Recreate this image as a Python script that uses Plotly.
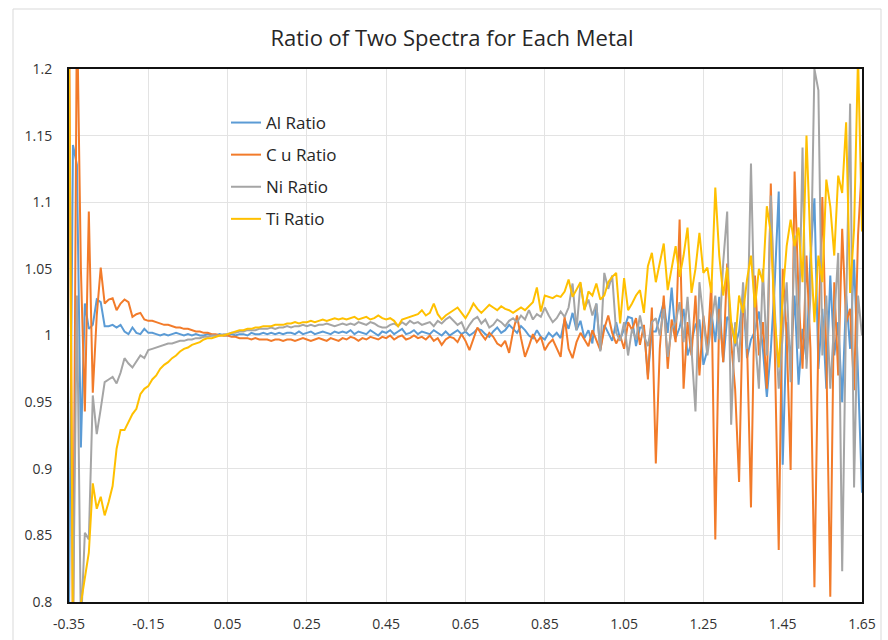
import plotly.graph_objects as go

# sampling grid of the spectra (step 0.01 from -0.35 to 1.65)
x_vals = [round(-0.35 + 0.01 * i, 2) for i in range(201)]

al_ratio = [
    0.79, 1.143, 1.128, 0.916, 1.024, 1.005, 1.008, 1.027, 1.025, 1.007,
    1.007, 1.008, 1.006, 1.008, 1.003, 1.001, 1.006, 1.002, 1.001, 1.005,
    1.002, 1.002, 1.001, 1.000, 1.001, 1.000, 1.001, 1.002, 1.001, 1.000,
    1.001, 1.000, 1.001, 1.000, 1.000, 1.001, 1.000, 1.000, 1.001, 1.000,
    1.000, 1.001, 1.000, 1.001, 1.001, 1.000, 1.002, 1.001, 1.001, 1.002,
    1.001, 1.002, 1.001, 1.002, 1.001, 1.002, 1.002, 1.001, 1.003, 1.001,
    1.002, 1.003, 1.001, 1.002, 1.003, 1.002, 1.001, 1.003, 1.002, 1.003,
    1.002, 1.004, 1.001, 1.003, 1.002, 1.001, 1.004, 1.002, 1.000, 1.003,
    1.002, 1.004, 1.001, 1.003, 1.005, 1.001, 1.002, 1.004, 1.001, 1.003,
    1.002, 1.001, 1.004, 1.002, 1.000, 1.003, 1.000, 1.002, 1.004, 1.001,
    1.003, 1.000, 1.002, 1.005, 1.004, 1.001, 0.999, 1.003, 1.006, 1.002,
    1.004, 1.008, 1.005, 1.002, 1.007, 1.004, 1.000, 0.998, 1.004, 0.999,
    0.997, 1.002, 0.999, 1.002, 0.998, 1.012, 1.005, 1.017, 1.004, 1.011,
    0.998, 1.004, 0.994, 1.024, 0.989, 1.008, 1.002, 0.996, 1.010, 0.997,
    1.005, 1.014, 1.013, 0.992, 1.006, 1.006, 0.970, 1.003, 1.003, 1.015,
    1.025, 1.002, 1.036, 0.998, 1.006, 1.020, 0.985, 0.995, 1.008, 1.012,
    0.978, 0.989, 1.018, 0.995, 1.029, 0.980, 1.014, 1.010, 0.992, 1.003,
    1.032, 0.983, 0.997, 1.003, 1.018, 0.990, 0.954, 0.989, 1.040, 1.108,
    0.903, 1.010, 0.982, 1.030, 0.963, 1.005, 0.982, 1.060, 1.103, 0.975,
    1.020, 0.960, 1.045, 0.985, 1.010, 0.950, 1.030, 0.990, 1.057, 0.970,
    0.882,
]

cu_ratio = [
    1.25, 0.76, 1.25, 1.05, 0.943, 1.093, 0.957, 1.015, 1.051, 1.024,
    1.027, 1.028, 1.019, 1.024, 1.027, 1.025, 1.014, 1.016, 1.017, 1.012,
    1.011, 1.011, 1.010, 1.009, 1.008, 1.008, 1.007, 1.006, 1.006, 1.005,
    1.005, 1.004, 1.003, 1.003, 1.002, 1.002, 1.001, 1.001, 1.000, 1.000,
    1.000, 0.999, 0.999, 0.998, 0.998, 0.998, 0.997, 0.998, 0.997, 0.997,
    0.997, 0.996, 0.997, 0.997, 0.996, 0.997, 0.997, 0.996, 0.997, 0.998,
    0.997, 0.996, 0.997, 0.998, 0.997, 0.996, 0.998, 0.997, 0.996, 0.998,
    0.997, 0.999, 0.998, 0.996, 0.998, 0.997, 0.999, 0.998, 0.997, 0.999,
    0.998, 1.000, 0.997, 0.999, 1.000, 0.997, 0.998, 1.000, 0.998, 0.999,
    0.997, 1.000, 0.996, 0.998, 0.993, 0.997, 0.999, 0.998, 0.995, 1.001,
    0.996, 0.989, 0.998, 1.006, 1.001, 0.997, 1.002, 0.999, 0.994, 0.992,
    0.996, 0.987, 1.003, 1.015, 0.998, 0.984, 0.992, 1.001, 0.995, 0.999,
    0.989, 0.994, 0.997, 0.991, 0.984, 1.014, 0.990, 0.983, 0.995, 1.002,
    0.997, 0.992, 1.004, 0.997, 0.989, 1.005, 1.015, 1.002, 0.994, 1.000,
    0.990, 1.010, 1.004, 1.013, 0.993, 1.008, 0.967, 1.021, 0.904, 0.990,
    1.030, 0.975, 1.012, 0.995, 1.087, 0.960, 1.010, 0.985, 1.030, 0.970,
    1.015, 0.990, 1.040, 0.847, 1.020, 0.980, 1.054, 0.995, 0.960, 0.890,
    1.030, 0.995, 0.871, 1.045, 0.985, 1.010, 0.960, 1.114, 0.990, 0.839,
    1.050, 1.000, 0.899, 1.123, 1.030, 0.975, 1.060, 0.990, 0.811, 1.000,
    1.104, 0.985, 0.804, 1.040, 0.970, 1.080, 1.010, 1.020, 0.959, 1.075,
    1.130,
]

ni_ratio = [
    0.78, 0.78, 1.030, 0.78, 0.852, 0.847, 0.955, 0.926, 0.945, 0.965,
    0.967, 0.969, 0.964, 0.972, 0.983, 0.979, 0.976, 0.981, 0.985, 0.983,
    0.989, 0.990, 0.991, 0.992, 0.993, 0.994, 0.994, 0.995, 0.996, 0.996,
    0.997, 0.997, 0.998, 0.998, 0.999, 0.999, 1.000, 1.000, 1.000, 1.001,
    1.001, 1.002, 1.002, 1.003, 1.003, 1.004, 1.004, 1.004, 1.005, 1.005,
    1.005, 1.006, 1.005, 1.006, 1.006, 1.007, 1.006, 1.007, 1.007, 1.008,
    1.007, 1.008, 1.007, 1.008, 1.008, 1.009, 1.008, 1.007, 1.008, 1.009,
    1.008, 1.009, 1.008, 1.010, 1.009, 1.008, 1.010, 1.009, 1.007, 1.006,
    1.006, 1.008, 1.009, 1.007, 1.010, 1.008, 1.011, 1.009, 1.010, 1.008,
    1.009, 1.010, 1.007, 1.011, 1.009, 1.012, 1.014, 1.011, 1.008, 1.010,
    1.003, 1.008, 1.012, 1.014, 1.009, 1.012, 1.006, 1.008, 1.012, 1.010,
    1.007, 1.011, 1.013, 1.010, 1.015, 1.012, 1.019, 1.012, 1.016, 1.014,
    1.021, 1.015, 1.010, 1.013, 1.018, 1.014, 1.021, 1.039, 1.004, 1.039,
    1.020, 1.027, 1.015, 1.024, 0.988, 1.047, 1.035, 1.045, 1.002, 0.996,
    1.010, 0.985, 1.005, 0.997, 1.015, 1.000, 0.992, 1.010, 1.013, 1.000,
    1.020, 0.984, 1.005, 1.010, 1.025, 0.995, 1.029, 0.990, 0.943, 1.040,
    1.012, 0.985, 1.009, 1.030, 0.997, 1.055, 1.093, 0.933, 1.010, 0.980,
    1.040, 0.990, 1.129, 1.000, 0.960, 1.050, 0.985, 1.105, 1.020, 0.960,
    1.000, 1.040, 0.965, 1.075, 0.990, 1.141, 0.975, 1.030, 1.200, 1.184,
    0.985, 1.030, 0.960, 1.010, 1.062, 0.823, 1.020, 1.174, 0.886, 1.030,
    1.000,
]

ti_ratio = [
    1.22, 0.78, 0.78, 0.800, 0.820, 0.837, 0.889, 0.870, 0.879, 0.865,
    0.875, 0.887, 0.915, 0.929, 0.929, 0.935, 0.941, 0.945, 0.956, 0.960,
    0.962, 0.967, 0.970, 0.975, 0.978, 0.980, 0.983, 0.985, 0.988, 0.990,
    0.991, 0.993, 0.994, 0.995, 0.997, 0.998, 0.998, 0.999, 1.000, 1.000,
    1.001, 1.002, 1.003, 1.004, 1.004, 1.005, 1.005, 1.006, 1.006, 1.007,
    1.007, 1.007, 1.008, 1.008, 1.008, 1.009, 1.009, 1.010, 1.009, 1.010,
    1.010, 1.011, 1.010, 1.011, 1.012, 1.011, 1.012, 1.013, 1.012, 1.013,
    1.012, 1.013, 1.014, 1.012, 1.013, 1.014, 1.012, 1.013, 1.015, 1.013,
    1.012, 1.013, 1.011, 1.007, 1.012, 1.013, 1.014, 1.015, 1.016, 1.019,
    1.015, 1.017, 1.024, 1.016, 1.012, 1.015, 1.017, 1.019, 1.021, 1.017,
    1.013, 1.018, 1.024, 1.020, 1.017, 1.020, 1.023, 1.021, 1.019, 1.022,
    1.020, 1.019, 1.017, 1.019, 1.021, 1.019, 1.022, 1.025, 1.036, 1.018,
    1.030, 1.029, 1.028, 1.030, 1.029, 1.033, 1.042, 1.029, 1.035, 1.040,
    1.019, 1.033, 1.030, 1.039, 1.027, 1.030, 1.040, 1.044, 1.047, 1.009,
    1.043, 1.019, 1.024, 1.030, 1.034, 1.017, 1.052, 1.062, 1.040, 1.055,
    1.069, 1.034, 1.050, 1.067, 1.044, 1.060, 1.081, 1.032, 1.050, 1.077,
    1.047, 1.051, 1.032, 1.111, 1.060, 1.030, 1.051, 1.010, 0.994, 1.030,
    1.017, 1.042, 1.060, 1.021, 1.050, 1.040, 1.097, 1.077, 1.012, 0.976,
    1.030, 1.067, 1.087, 1.067, 1.081, 1.040, 1.150, 1.067, 1.010, 1.060,
    1.040, 1.117, 1.097, 1.060, 1.120, 1.107, 1.160, 1.032, 1.080, 1.210,
    1.078,
]

series_names = ["Al Ratio", "C u Ratio", "Ni Ratio", "Ti Ratio"]
series_values = [al_ratio, cu_ratio, ni_ratio, ti_ratio]
series_colors = ["#5B9BD5", "#F27B2A", "#A5A5A5", "#FFC000"]

x_tickvals = [-0.35, -0.15, 0.05, 0.25, 0.45, 0.65, 0.85, 1.05, 1.25, 1.45, 1.65]
x_ticktext = ["-0.35", "-0.15", "0.05", "0.25", "0.45", "0.65", "0.85", "1.05", "1.25", "1.45", "1.65"]
y_tickvals = [0.8, 0.85, 0.9, 0.95, 1.0, 1.05, 1.1, 1.15, 1.2]
y_ticktext = ["0.8", "0.85", "0.9", "0.95", "1", "1.05", "1.1", "1.15", "1.2"]

FONT = "Open Sans"

fig = go.Figure()
for i, (name, vals, col) in enumerate(zip(series_names, series_values, series_colors)):
    fig.add_trace(go.Scatter(
        x=x_vals, y=vals, mode="lines", name=name,
        line=dict(color=col, width=2), legendgroup=f"g{i}",
    ))

fig.update_layout(
    width=888, height=640,
    margin=dict(l=69, r=26, t=69, b=38, autoexpand=False),
    paper_bgcolor="white", plot_bgcolor="white",
    title=dict(
        text="Ratio of Two Spectra for Each Metal",
        x=452 / 888, xref="container", xanchor="center",
        y=1 - 38 / 640, yref="container", yanchor="middle",
        font=dict(family=FONT, size=22, color="#262626"),
    ),
    showlegend=True,
    legend=dict(
        x=(226 - 69) / 793, y=(602 - 105) / 533, xanchor="left", yanchor="top",
        bgcolor="rgba(255,255,255,0)", borderwidth=0,
        font=dict(family=FONT, size=17, color="#262626"),
        tracegroupgap=7,
    ),
    font=dict(family=FONT),
)

fig.update_xaxes(
    range=[-0.35, 1.65], tickvals=x_tickvals, ticktext=x_ticktext,
    showgrid=True, gridcolor="#E3E3E3", gridwidth=1,
    showline=True, linecolor="#111111", linewidth=2, mirror=True,
    ticks="", zeroline=False, ticklabelstandoff=8, automargin=False,
    tickfont=dict(family=FONT, size=14, color="#333333"),
)
fig.update_yaxes(
    range=[0.8, 1.2], tickvals=y_tickvals, ticktext=y_ticktext,
    showgrid=True, gridcolor="#E3E3E3", gridwidth=1,
    showline=True, linecolor="#111111", linewidth=2, mirror=True,
    ticks="", zeroline=False, ticklabelstandoff=12, automargin=False,
    tickfont=dict(family=FONT, size=14, color="#333333"),
)

# outer chart-area border
fig.add_shape(
    type="rect", xref="paper", yref="paper",
    x0=(13 - 69) / 793, x1=(881 - 69) / 793,
    y0=(602 - 648) / 533, y1=(602 - 9) / 533,
    line=dict(color="#D9D9D9", width=1), fillcolor="rgba(0,0,0,0)", layer="below",
)

fig.write_html("out.html")
